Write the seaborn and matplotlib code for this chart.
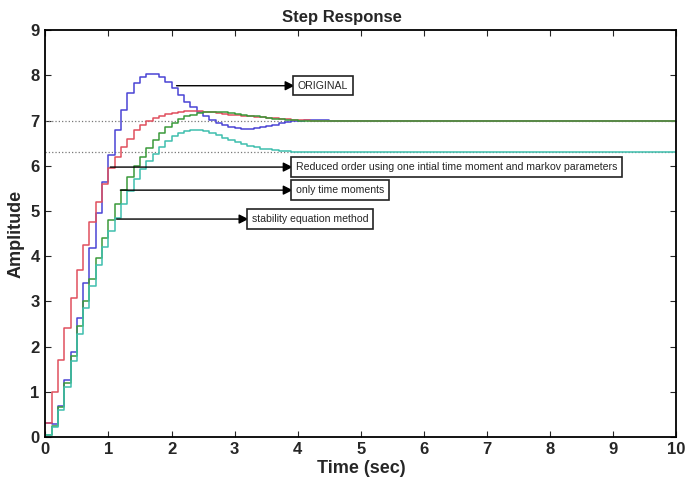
import numpy as np
import pandas as pd
import seaborn as sns
import matplotlib
matplotlib.use("Agg")
import matplotlib.pyplot as plt

# sample instants (0.1 s), plus the end of the time axis
t_samples = np.round(np.arange(46) * 0.1, 1)
t_end = 10.0

original = [0.3, 0.28, 0.68, 1.26, 1.88, 2.63, 3.4, 4.18, 4.95, 5.65,
            6.24, 6.79, 7.23, 7.6, 7.83, 7.96, 8.03, 8.03, 7.96, 7.85,
            7.72, 7.57, 7.41, 7.3, 7.19, 7.1, 7.02, 6.95, 6.9, 6.86,
            6.83, 6.82, 6.82, 6.83, 6.85, 6.88, 6.91, 6.94, 6.97, 6.99,
            7.0, 7.01, 7.02, 7.02, 7.01, 7.0, 7.0]
markov = [0.3, 1.0, 1.7, 2.4, 3.07, 3.69, 4.25, 4.76, 5.2, 5.6,
          5.95, 6.2, 6.42, 6.6, 6.78, 6.9, 6.98, 7.05, 7.1, 7.14,
          7.17, 7.19, 7.2, 7.2, 7.2, 7.19, 7.18, 7.16, 7.15, 7.13,
          7.12, 7.1, 7.09, 7.08, 7.07, 7.06, 7.05, 7.04, 7.03, 7.02,
          7.01, 7.01, 7.0, 7.0, 7.0, 7.0, 7.0]
time_moments = [0.05, 0.25, 0.67, 1.2, 1.8, 2.45, 3.0, 3.5, 3.95, 4.4,
                4.8, 5.15, 5.46, 5.75, 6.0, 6.2, 6.4, 6.58, 6.72, 6.85,
                6.95, 7.03, 7.09, 7.13, 7.16, 7.18, 7.19, 7.19, 7.18, 7.17,
                7.15, 7.13, 7.11, 7.09, 7.07, 7.06, 7.04, 7.03, 7.02, 7.01,
                7.0, 7.0, 7.0, 7.0, 7.0, 7.0, 7.0]
stability = [0.05, 0.22, 0.6, 1.1, 1.68, 2.28, 2.85, 3.35, 3.8, 4.2,
             4.55, 4.85, 5.15, 5.45, 5.7, 5.92, 6.1, 6.27, 6.42, 6.55,
             6.65, 6.72, 6.77, 6.79, 6.79, 6.77, 6.72, 6.67, 6.62, 6.57,
             6.52, 6.48, 6.44, 6.41, 6.38, 6.36, 6.34, 6.33, 6.32, 6.31,
             6.3, 6.3, 6.3, 6.3, 6.3, 6.3, 6.3]

steady_values = [7.0, 6.3]

series_names = ["original", "markov", "time_moments", "stability"]
colors = ["#4a44d4", "#e0505e", "#3a9a3a", "#3fbfae"]

labels = ["ORIGINAL",
          "Reduced order using one intial time moment and markov parameters",
          "only time moments",
          "stability equation method"]
# (arrow tail, arrow head / box) in data coords
arrow_tail = [(2.08, 7.77), (1.03, 5.97), (1.19, 5.46), (1.13, 4.82)]
arrow_head = [(3.95, 7.77), (3.92, 5.97), (3.92, 5.46), (3.22, 4.82)]

t = np.append(t_samples, t_end)
df = pd.concat([
    pd.DataFrame({"time": t, "amp": vals, "model": name})
    for name, vals in zip(series_names,
                          [original, markov, time_moments, stability])
], ignore_index=True)

sns.set_style("ticks")
plt.rcParams["font.family"] = ["Liberation Sans", "DejaVu Sans"]

fig = plt.figure(figsize=(6.86, 4.86), dpi=100)
ax = fig.add_axes([0.066, 0.101, 0.920, 0.837])

for v in steady_values:
    ax.axhline(v, color="#777777", linestyle=":", linewidth=0.9, zorder=1)

sns.lineplot(data=df, x="time", y="amp", hue="model", palette=colors,
             hue_order=series_names, drawstyle="steps-post", linewidth=1.1,
             estimator=None, legend=False, ax=ax, zorder=2)

for lab, tail, head in zip(labels, arrow_tail, arrow_head):
    ax.annotate("", xy=head, xytext=tail,
                arrowprops=dict(arrowstyle="-|>", color="black", lw=1.0,
                                mutation_scale=14, shrinkA=0, shrinkB=0))
    ax.text(head[0] + 0.05, head[1], lab, fontsize=7.6, va="center", ha="left",
            bbox=dict(boxstyle="square,pad=0.45", fc="white", ec="#222222", lw=1.2))

ax.set_xlim(0, 10)
ax.set_ylim(0, 9)
ax.set_xticks(range(0, 11))
ax.set_yticks(range(0, 10))
ax.tick_params(direction="in", length=4, width=0.8, top=True, right=True,
               labelsize=12, pad=4)
for lbl in ax.get_xticklabels() + ax.get_yticklabels():
    lbl.set_fontweight("bold")
for sp in ax.spines.values():
    sp.set_linewidth(1.3)
    sp.set_color("black")

ax.set_title("Step Response", fontsize=12, fontweight="bold", pad=6, x=0.47)
ax.set_xlabel("Time (sec)", fontsize=13, fontweight="bold", labelpad=2)
ax.set_ylabel("Amplitude", fontsize=13, fontweight="bold", labelpad=4)

fig.savefig("out.png", dpi=100)
